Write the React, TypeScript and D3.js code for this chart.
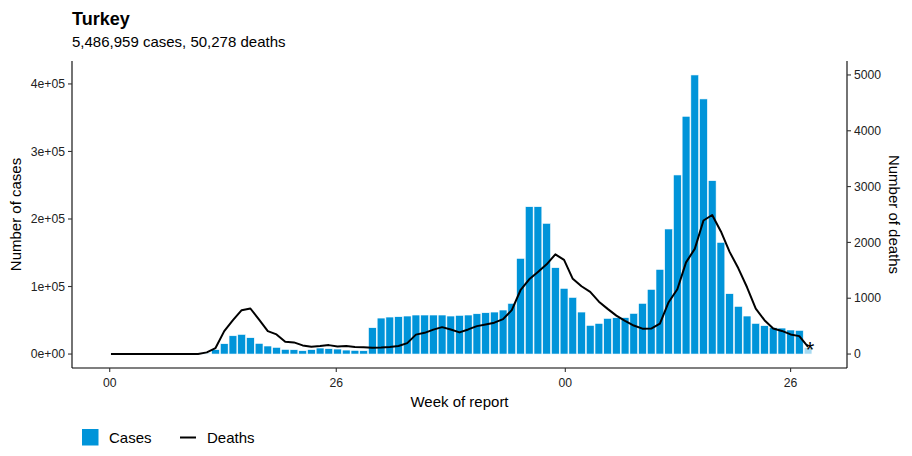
import React from "react";
import * as d3 from "d3";

const WIDTH = 912;
const HEIGHT = 456;

const title = "Turkey";
const subtitle = "5,486,959 cases, 50,278 deaths";
const xTitle = "Week of report";
const yLeftTitle = "Number of cases";
const yRightTitle = "Number of deaths";
const legendLabels = ["Cases", "Deaths"];

// weekly categories: ISO weeks starting Monday 2019-12-30, last week ending Sunday 2021-07-18
const firstMonday = "2019-12-30";
const lastSunday = "2021-07-18";

const cases = [
  0, 0, 0, 0, 0, 0, 0, 0, 0, 0,
  47, 1190, 6500, 15300, 27100, 29100, 24200, 15800, 11900, 9900,
  6900, 6400, 4900, 6500, 8900, 7900, 7400, 5900, 5400, 4900,
  39000, 53300, 54800, 55300, 56300, 57800, 57800, 57800, 57800, 56300,
  57300, 57800, 59700, 61200, 62200, 65200, 75100, 141700, 218200, 218200,
  193600, 127900, 97300, 83900, 62200, 42500, 45400, 52800, 53800, 54000,
  60200, 75100, 95800, 125400, 185200, 265200, 352100, 413300, 377800, 256800,
  165400, 89400, 70600, 56300, 45400, 42000, 39000, 38500, 35600, 35100,
  9900,
];

const deaths = [
  0, 0, 0, 0, 0, 0, 0, 0, 0, 0,
  0, 30, 107, 410, 607, 786, 816, 616, 410, 352,
  220, 209, 155, 130, 143, 160, 134, 143, 125, 120,
  114, 116, 125, 143, 196, 348, 380, 437, 482, 441,
  388, 441, 500, 530, 562, 625, 786, 1143, 1339, 1470,
  1607, 1786, 1688, 1348, 1214, 1113, 938, 809, 688, 593,
  511, 455, 457, 545, 929, 1161, 1643, 1884, 2393, 2491,
  2196, 1830, 1536, 1196, 813, 607, 459, 414, 352, 321,
  130,
];

const xTickDates = ["2020-01-01", "2020-07-01", "2021-01-01", "2021-07-01"];
const caseTicks = [0, 100000, 200000, 300000, 400000];
const deathTicks = [0, 1000, 2000, 3000, 4000, 5000];
const deathAxisMax = 5000;

const BAR_COLOR = "#0094D9";
const FONT = "'Liberation Sans', Arial, Helvetica, sans-serif";

const panel = { left: 72, right: 847, top: 61, bottom: 368 };

function sci(v: number): string {
  if (v === 0) return "0e+00";
  const e = Math.floor(Math.log10(Math.abs(v)));
  const m = v / Math.pow(10, e);
  return `${Math.round(m)}e+${String(e).padStart(2, "0")}`;
}

export default function App() {
  const start = new Date(firstMonday).getTime();
  const end = new Date(lastSunday).getTime();
  const weeks = d3.utcMonday.range(new Date(start), new Date(end));
  const pad = (end - start) * 0.05;
  const x = d3
    .scaleUtc()
    .domain([new Date(start - pad), new Date(end + pad)])
    .range([panel.left, panel.right]);

  const maxCases = d3.max(cases) as number;
  const yC = d3
    .scaleLinear()
    .domain([-0.05 * maxCases, 1.05 * maxCases])
    .range([panel.bottom, panel.top]);
  const factor = maxCases / deathAxisMax;
  const yD = d3
    .scaleLinear()
    .domain([(-0.05 * maxCases) / factor, (1.05 * maxCases) / factor])
    .range([panel.bottom, panel.top]);

  const dayMs = 24 * 3600 * 1000;
  const center = (d: Date) => new Date(d.getTime() + 3 * dayMs);
  const barW = x(new Date(start + 6.3 * dayMs)) - x(new Date(start));

  const n = weeks.length;
  const linePts: [number, number][] = weeks.map((w, i) => [x(center(w)), yD(deaths[i])]);
  const linePath = d3.line()(linePts) || "";
  const last = linePts[n - 1];
  const fmtWeek = d3.utcFormat("%W");

  return (
    <svg
      width={WIDTH}
      height={HEIGHT}
      style={{ position: "absolute", left: 0, top: 0, background: "#fff" }}
      fontFamily={FONT}
    >
      <rect x={0} y={0} width={WIDTH} height={HEIGHT} fill="#fff" />
      <text x={72} y={25} fontSize={18} fontWeight="bold" fill="#000">{title}</text>
      <text x={72} y={47} fontSize={15} fill="#000">{subtitle}</text>

      {weeks.map((w, i) => {
        const cx = x(center(w));
        const y0 = yC(0);
        const y1 = yC(cases[i]);
        return (
          <rect
            key={i}
            x={cx - barW / 2}
            y={y1}
            width={barW}
            height={Math.max(0, y0 - y1)}
            fill={BAR_COLOR}
            fillOpacity={i === n - 1 ? 0.35 : 1}
            stroke="#fff"
            strokeWidth={0.6}
          />
        );
      })}

      <path d={linePath} fill="none" stroke="#000" strokeWidth={2} strokeLinejoin="round" />
      <text x={last[0] + 2} y={last[1] + 10} textAnchor="middle" fontSize={22} fill="#000">*</text>

      {/* axes lines */}
      <g stroke="#000" strokeWidth={1.1}>
        <line x1={panel.left} y1={panel.top} x2={panel.left} y2={panel.bottom} />
        <line x1={panel.right} y1={panel.top} x2={panel.right} y2={panel.bottom} />
        <line x1={panel.left} y1={panel.bottom} x2={panel.right} y2={panel.bottom} />
      </g>

      {/* left axis */}
      {caseTicks.map((t) => (
        <g key={"c" + t}>
          <line x1={panel.left - 4} x2={panel.left} y1={yC(t)} y2={yC(t)} stroke="#333" strokeWidth={1.1} />
          <text x={panel.left - 7} y={yC(t)} dy="0.35em" textAnchor="end" fontSize={12.2} fill="#222">{sci(t)}</text>
        </g>
      ))}
      {/* right axis */}
      {deathTicks.map((t) => (
        <g key={"d" + t}>
          <line x1={panel.right} x2={panel.right + 4} y1={yD(t)} y2={yD(t)} stroke="#333" strokeWidth={1.1} />
          <text x={panel.right + 7} y={yD(t)} dy="0.35em" textAnchor="start" fontSize={12.2} fill="#222">{t}</text>
        </g>
      ))}
      {/* bottom axis */}
      {xTickDates.map((d) => {
        const dt = new Date(d);
        const px = x(dt);
        return (
          <g key={d}>
            <line x1={px} x2={px} y1={panel.bottom} y2={panel.bottom + 4} stroke="#333" strokeWidth={1.1} />
            <text x={px} y={387} textAnchor="middle" fontSize={12.2} fill="#222">{fmtWeek(dt)}</text>
          </g>
        );
      })}

      <text x={(panel.left + panel.right) / 2} y={407} textAnchor="middle" fontSize={15} fill="#000">{xTitle}</text>
      <text transform={`translate(21, ${(panel.top + panel.bottom) / 2}) rotate(-90)`} textAnchor="middle" fontSize={15} fill="#000">{yLeftTitle}</text>
      <text transform={`translate(889, ${(panel.top + panel.bottom) / 2}) rotate(90)`} textAnchor="middle" fontSize={15} fill="#000">{yRightTitle}</text>

      {/* legend */}
      <rect x={82} y={429} width={16.5} height={16.5} fill={BAR_COLOR} />
      <text x={109} y={443} fontSize={15} fill="#000">{legendLabels[0]}</text>
      <line x1={180} x2={196} y1={437.5} y2={437.5} stroke="#000" strokeWidth={2} />
      <text x={207} y={443} fontSize={15} fill="#000">{legendLabels[1]}</text>
    </svg>
  );
}
